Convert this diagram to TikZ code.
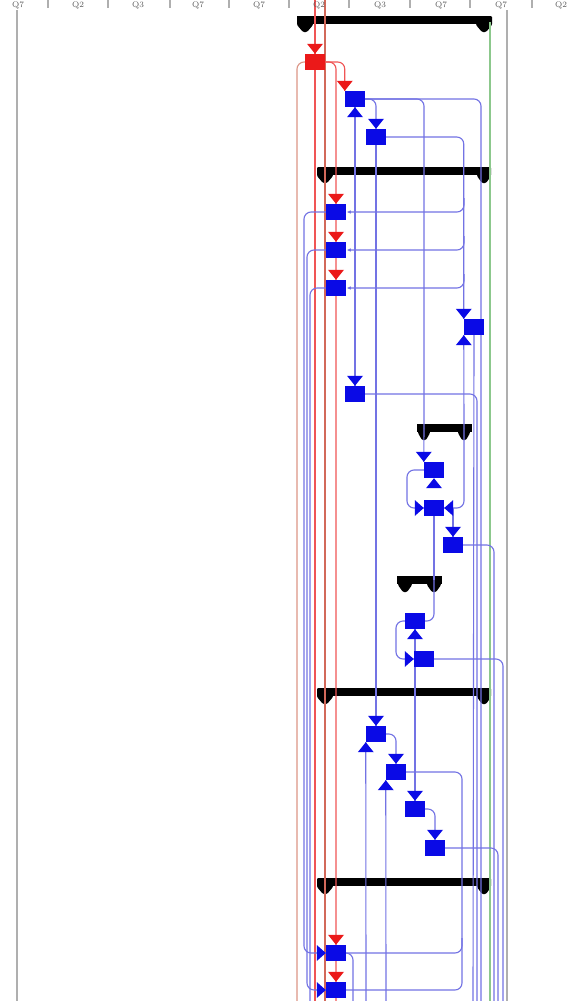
\documentclass[tikz,border=0pt]{standalone}
\usepackage{tikz}
\usetikzlibrary{calc, positioning, arrows.meta}

\definecolor{gateblue}{RGB}{10,10,230}
\definecolor{gatered}{RGB}{235,25,25}
\definecolor{wireblue}{RGB}{115,115,228}
\definecolor{wirered}{RGB}{240,85,85}
\definecolor{wirebrown}{RGB}{210,105,90}
\definecolor{wiresalmon}{RGB}{220,150,135}
\definecolor{wiregreen}{RGB}{140,200,140}
\definecolor{gridgray}{RGB}{175,175,175}

\pgfdeclarelayer{bg}
\pgfsetlayers{bg,main}

% Eingangsdreiecke an den Gattern
\newcommand{\portD}[2]{\fill[#1] (#2) -- ++(-8,-10) -- ++(16,0) -- cycle;}
\newcommand{\portU}[2]{\fill[#1] (#2) -- ++(-8,10) -- ++(16,0) -- cycle;}
\newcommand{\portR}[2]{\fill[#1] (#2) -- ++(-9,-8) -- ++(0,16) -- cycle;}
\newcommand{\portL}[2]{\fill[#1] (#2) -- ++(9,-8) -- ++(0,16) -- cycle;}
% Endkappe eines Balkens
\newcommand{\barCap}[2]{\fill[black, rounded corners=1pt] (#1) ++(-#2,-4) -- ++(2*#2,0) -- ++(0,9) -- ++(-#2+2,7) -- ++(-4,0) -- ++(-#2+2,-7) -- cycle;}

\begin{document}
\begin{tikzpicture}[x=0.03cm, y=-0.03cm, line join=round,
    gate/.style={fill=gateblue, minimum width=0.6cm, minimum height=0.48cm, inner sep=0pt},
    redgate/.style={gate, fill=gatered},
    wire/.style={draw=wireblue, line width=0.95pt, rounded corners=6pt},
    redwire/.style={draw=wirered, line width=0.95pt, rounded corners=6pt},
    brownwire/.style={draw=wirebrown, line width=0.95pt, rounded corners=6pt},
    greenwire/.style={draw=wiregreen, line width=0.95pt},
    bar/.style={black, line width=6pt},
    grid/.style={draw=gridgray, line width=0.95pt}]

    % Rahmen
    \useasboundingbox (0,0) rectangle (585,1001);
    \clip (0,0) rectangle (585,1001);

    % Kopfzeile
    \foreach \gx in {48,108,170,229,289,349,410,470,532}
        \draw[grid] (\gx,0) -- (\gx,8);
    \foreach \lx/\lt in {18/Q7, 78/Q2, 138/Q3, 198/Q7, 259/Q7, 319/Q2, 380/Q3, 441/Q7, 501/Q7, 561/Q2}
        \node[anchor=base, text=gridgray!50!black, font=\scriptsize, inner sep=0pt] (lab\lx) at (\lx,7) {\lt};
    \coordinate (lb0) at (17,10);  \coordinate (lb1) at (17,1001);
    \coordinate (rb0) at (507,10); \coordinate (rb1) at (507,1001);
    \draw[grid] (lb0) -- (lb1);
    \draw[grid] (rb0) -- (rb1);

    % Gatter
    \node[redgate] (r1) at (315,62) {};
    \node[gate] (b1) at (355,99) {};
    \node[gate] (b2) at (376,137) {};
    \node[gate] (b3) at (336,212) {};
    \node[gate] (b4) at (336,250) {};
    \node[gate] (b5) at (336,288) {};
    \node[gate] (b7) at (474,327) {};
    \node[gate] (b6) at (355,394) {};
    \node[gate] (b8) at (434,470) {};
    \node[gate] (b9) at (434,508) {};
    \node[gate] (b10) at (453,545) {};
    \node[gate] (b11) at (415,621) {};
    \node[gate] (b12) at (424,659) {};
    \node[gate] (b13) at (376,734) {};
    \node[gate] (b14) at (396,772) {};
    \node[gate] (b15) at (415,809) {};
    \node[gate] (b16) at (435,848) {};
    \node[gate] (b17) at (336,953) {};
    \node[gate] (b18) at (336,990) {};

    % Eingaenge
    \portD{gatered}{r1.north}
    \portD{gatered}{b1.north west}
    \portU{gateblue}{b1.south}
    \portD{gateblue}{b2.north}
    \portD{gatered}{b3.north}
    \portD{gatered}{b4.north}
    \portD{gatered}{b5.north}
    \portD{gateblue}{b7.north west}
    \portU{gateblue}{b7.south west}
    \portD{gateblue}{b6.north}
    \portD{gateblue}{b8.north west}
    \portU{gateblue}{b8.south}
    \portR{gateblue}{b9.west}
    \portL{gateblue}{b9.east}
    \portD{gateblue}{b10.north}
    \portU{gateblue}{b11.south}
    \portR{gateblue}{b12.west}
    \portD{gateblue}{b13.north}
    \portU{gateblue}{b13.south west}
    \portD{gateblue}{b14.north}
    \portU{gateblue}{b14.south west}
    \portD{gateblue}{b15.north}
    \portD{gateblue}{b16.north}
    \portD{gatered}{b17.north}
    \portR{gateblue}{b17.west}
    \portD{gatered}{b18.north}
    \portR{gateblue}{b18.west}

    \begin{pgfonlayer}{bg}
    \fill[white] (0,0) rectangle (585,1001);
    % Balken
    \coordinate (cap1a) at (305,20); \coordinate (cap1b) at (484,20);
    \coordinate (cap2a) at (325,171); \coordinate (cap2b) at (484,171);
    \coordinate (cap3a) at (424,428); \coordinate (cap3b) at (464,428);
    \coordinate (cap4a) at (405,580); \coordinate (cap4b) at (434,580);
    \coordinate (cap5a) at (325,692); \coordinate (cap5b) at (484,692);
    \coordinate (cap6a) at (325,882); \coordinate (cap6b) at (484,882);
    \draw[bar] (297,20) -- (491,20);
    \draw[bar] (318,171) -- (490,171);
    \draw[bar] (417,428) -- (472,428);
    \draw[bar] (397,580) -- (442,580);
    \draw[bar] (318,692) -- (490,692);
    \draw[bar] (318,882) -- (490,882);
    \barCap{cap1a}{8} \barCap{cap1b}{8}
    \barCap{cap2a}{8} \barCap{cap2b}{7}
    \barCap{cap3a}{6} \barCap{cap3b}{6}
    \barCap{cap4a}{7} \barCap{cap4b}{7}
    \barCap{cap5a}{8} \barCap{cap5b}{7}
    \barCap{cap6a}{8} \barCap{cap6b}{7}

    % rote Leitungen
    \coordinate (qa0) at (315,0); \coordinate (qa1) at (315,1001);
    \coordinate (qb0) at (325,0); \coordinate (qb1) at (325,1001);
    \coordinate (qc1) at (297,1001);
    \coordinate (qd1) at (336,1001);
    \draw[redwire] (qa0) -- (qa1);
    \draw[brownwire] (qb0) -- (qb1);
    \draw[brownwire, draw=wiresalmon] (r1.west) -| (qc1);
    \draw[redwire] (r1.east) -| (qd1);
    \draw[redwire] (r1.east) -| (b1.north west);

    % gruene Leitung
    \coordinate (g0) at (490,22); \coordinate (g1) at (490,1001);
    \draw[greenwire] (g0) -- (g1);

    % blaue Leitungen
    \coordinate (o1) at (481,1001);
    \coordinate (o5) at (310,1001);
    \coordinate (o6) at (477,1001);
    \coordinate (o7) at (473,1001);
    \coordinate (o10) at (494,1001);
    \coordinate (o12) at (503,1001);
    \coordinate (o16) at (498,1001);
    \coordinate (o17) at (353,1001);
    \coordinate (i13) at (366,1001);
    \coordinate (i14) at (386,1001);
    \coordinate (l17) at (304,953);
    \coordinate (l18) at (307,990);
    \coordinate (l9) at (407,489);
    \coordinate (l12) at (396,640);
    \coordinate (f3) at (464,198);
    \coordinate (f4) at (464,236);
    \coordinate (f5) at (464,274);
    \coordinate (f17) at (462,938);
    \coordinate (c18) at (462,990);

    \draw[wire] (b1.east) -| (b2.north);
    \draw[wire] (b1.east) -| (cap3a);
    \draw[wire] (b1.east) -| (o1);
    \draw[wire] (b1.south) -- (b6.north);
    \draw[wire] (b2.south) -- (b13.north);
    \draw[wire] (b2.east) -| (b7.north west);
    \draw[wire, -{Latex[length=4pt, width=3pt]}] (f3) |- (b3.east);
    \draw[wire, -{Latex[length=4pt, width=3pt]}] (f4) |- (b4.east);
    \draw[wire, -{Latex[length=4pt, width=3pt]}] (f5) |- (b5.east);
    \draw[wire] (b3.west) -| (l17) -- (b17.west);
    \draw[wire] (b4.west) -| (l18) -- (b18.west);
    \draw[wire] (b5.west) -| (o5);
    \draw[wire] (b7.south west) -- (cap3b);
    \draw[wire] (b7.south) -- (o7);
    \draw[wire] (b6.east) -| (o6);
    \draw[wire] (cap3a) -- (b8.north west);
    \draw[wire] (cap3b) |- (b9.east);
    \draw[wire] (b8.west) -| (l9) |- (b9.west);
    \draw[wire] (b10.north |- b9.east) -- (b10.north);
    \draw[wire] (b9.south) -- (cap4b);
    \draw[wire] (b10.east) -| (o10);
    \draw[wire] (cap4b) |- (b11.east);
    \draw[wire] (b11.west) -| (l12) |- (b12.west);
    \draw[wire] (b12.east) -| (o12);
    \draw[wire] (b11.south) -- (b15.north);
    \draw[wire] (b13.east) -| (b14.north);
    \draw[wire] (i13) -- (b13.south west);
    \draw[wire] (i14) -- (b14.south west);
    \draw[wire] (b14.east) -| (c18) -- (b18.east);
    \draw[wire] (f17) |- (b17.east);
    \draw[wire] (b15.east) -| (b16.north);
    \draw[wire] (b16.east) -| (o16);
    \draw[wire] (b17.east) -| (o17);
    \end{pgfonlayer}
\end{tikzpicture}
\end{document}
